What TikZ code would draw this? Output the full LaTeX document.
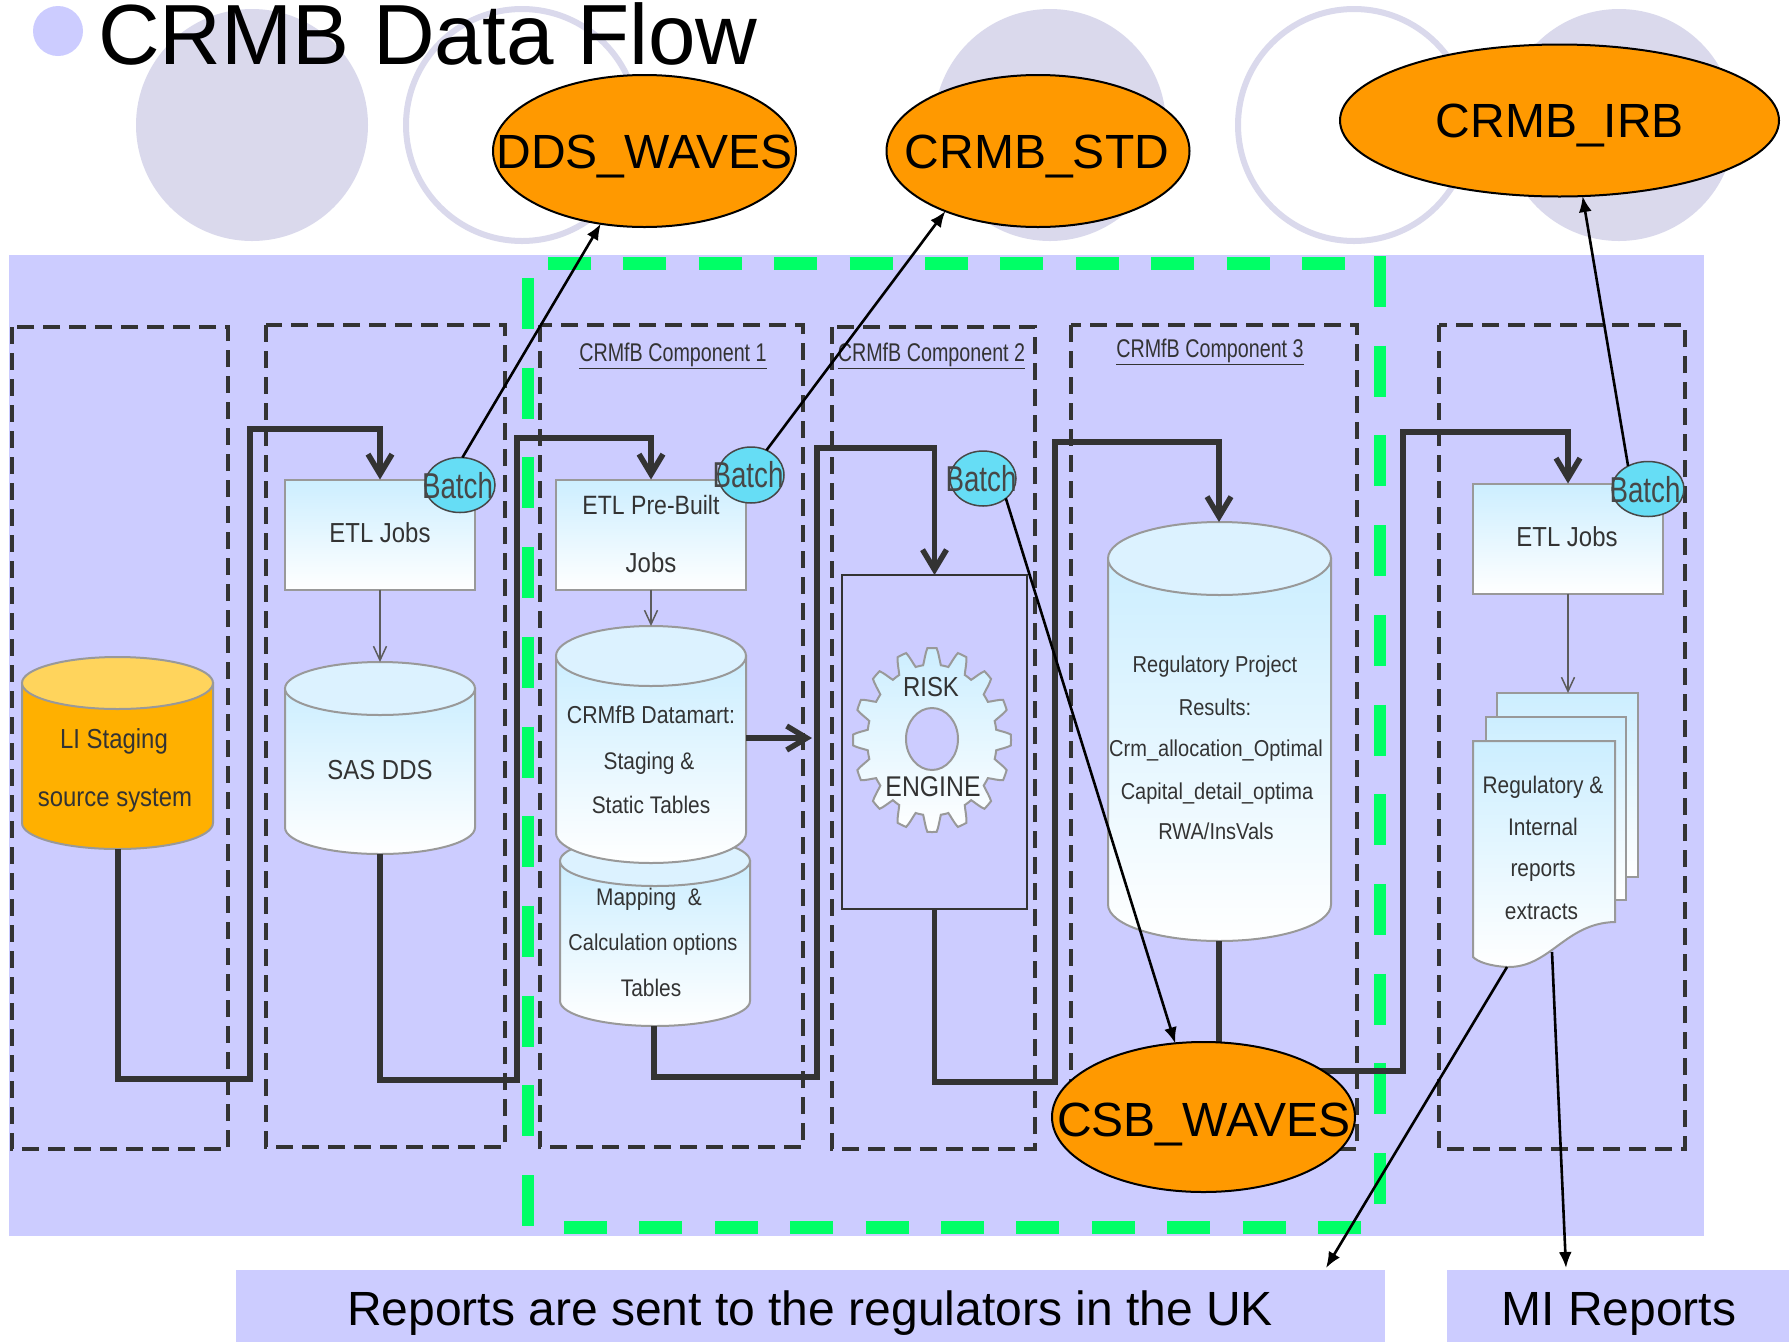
\documentclass[tikz,border=0pt]{standalone}
\usepackage{fontspec}
\setmainfont{Liberation Sans}
\newfontfamily\fnarrow[FakeStretch=0.87]{Liberation Sans}
\newfontfamily\ftight[FakeStretch=0.77]{Liberation Sans}
\usetikzlibrary{arrows.meta,shapes.geometric}
\definecolor{panel}{HTML}{CCCCFF}
\definecolor{deco}{HTML}{DAD9EC}
\definecolor{orng}{HTML}{FF9900}
\definecolor{grn}{HTML}{00FF66}
\definecolor{ink}{HTML}{333333}
\definecolor{sky}{HTML}{CCEEFF}
\definecolor{skymid}{HTML}{E6F6FF}
\definecolor{skyend}{HTML}{DCF2FF}
\definecolor{edge}{HTML}{999999}
\definecolor{batchc}{HTML}{66DDF5}
\definecolor{amber}{HTML}{FFB000}
\definecolor{amberend}{HTML}{FFD45C}
\tikzset{
  x=1pt,y=-1pt,
  panelbox/.style={fill=panel,draw=none,inner sep=0pt,outer sep=0pt},
  dbl/.style={fill=orng,draw=black,line width=2pt,ellipse,inner sep=0pt,outer sep=0pt},
  decofill/.style={fill=deco,draw=none},
  decoring/.style={draw=deco,line width=6pt},
  greenh/.style={draw=grn,line width=13pt,dash pattern=on 43pt off 32.4pt},
  greenv/.style={draw=grn,line width=11.5pt,dash pattern=on 51pt off 38.7pt},
  group/.style={draw=ink,line width=3.5pt,dash pattern=on 17pt off 9pt},
  flow/.style={draw=ink,line width=5.5pt,-{Straight Barb[length=20pt,width=24pt]}},
  thin/.style={draw=ink!80,line width=1.5pt,-{Straight Barb[length=14pt,width=13pt]}},
  link/.style={draw=black,line width=2.6pt,-{Latex[length=16pt,width=13pt]}},
  fadefill/.style={top color=sky,middle color=skymid,bottom color=white},
  box/.style={draw=edge,line width=2pt,fadefill,inner sep=0pt,outer sep=0pt},
  cylbody/.style={draw=edge,line width=2pt,fadefill},
  cylend/.style={draw=edge,line width=2pt,fill=skyend},
  cylbodyy/.style={draw=edge,line width=2pt,fill=amber},
  cylendy/.style={draw=edge,line width=2pt,fill=amberend},
  batch/.style={draw=ink!90,line width=1.5pt,fill=batchc,ellipse,inner sep=0pt,outer sep=0pt},
  batchtxt/.style={text=ink!90,inner sep=0pt,font=\ftight\fontsize{36}{36}\selectfont},
  lab/.style={text=ink,inner sep=0pt,font=\fnarrow\fontsize{27.5}{27.5}\selectfont},
  lab2/.style={text=ink,inner sep=0pt,font=\fnarrow\fontsize{24}{24}\selectfont},
  lab3/.style={text=ink,inner sep=0pt,font=\fnarrow\fontsize{23}{23}\selectfont},
  comp/.style={text=ink,inner sep=0pt,font=\ftight\fontsize{25.6}{25.6}\selectfont},
  big/.style={text=black,inner sep=0pt,anchor=base,font=\fontsize{48}{48}\selectfont},
}
\newcommand{\cylshape}[8]{%
  \pgfmathsetmacro\cylrx{(#3-#2)/2}%
  \pgfmathsetmacro\cylw{#3-#2}%
  \pgfmathsetmacro\cylh{#5-#4}%
  \path[#7] (#2,{#4+#6}) -- (#2,{#5-#6}) arc[start angle=180,end angle=360,x radius=\cylrx pt,y radius=#6 pt] -- (#3,{#4+#6}) -- cycle;
  \path[#8] ({(#2+#3)/2},{#4+#6}) ellipse[x radius=\cylrx pt,y radius=#6 pt];
  \node[name=#1,inner sep=0pt,outer sep=0pt,minimum width=\cylw pt,minimum height=\cylh pt] at ({(#2+#3)/2},{(#4+#5)/2}) {};
}
\begin{document}
\begin{tikzpicture}
\useasboundingbox (0,0) rectangle (1789,1342);
\fill[white] (0,0) rectangle (1789,1342);
% decoration circles
\fill[decofill] (252,125) circle[radius=116pt];
\draw[decoring] (522,125) circle[radius=116pt];
\fill[decofill] (1050,125) circle[radius=116pt];
\draw[decoring] (1354,125) circle[radius=116pt];
\fill[decofill] (1619,125) circle[radius=116pt];
% title
\fill[panel] (58,31) circle[radius=25pt];
\node[big,anchor=base west,font=\fontsize{85.4}{90}\selectfont] (title) at (98,64) {CRMB Data Flow};
% panels
\node[panelbox,minimum width=1695pt,minimum height=981pt] (main) at (856.5,745.5) {};
\node[panelbox,minimum width=1149pt,minimum height=72pt] (rep) at (810.5,1306) {};
\node[panelbox,minimum width=342pt,minimum height=72pt] (mi) at (1618,1306) {};
\coordinate (reptip) at (1326,1268);
\coordinate (mitip) at (1566,1268);
\node[big] (reptxt) at (810,1325) {Reports are sent to the regulators in the UK};
\node[big] (mitxt) at (1619,1325) {MI Reports};
% green dashed frame
\draw[greenh] (548,263) -- (1346,263);
\draw[greenv] (1380,256) -- (1380,1208);
\draw[greenh] (564,1227.5) -- (1362,1227.5);
\draw[greenv] (528,278) -- (528,1232);
% dashed groups
\draw[group] (12,327) rectangle (228,1149);
\draw[group] (266,325) rectangle (505,1147);
\draw[group] (540,325) rectangle (803,1147);
\draw[group] (832,327) rectangle (1035,1149);
\draw[group] (1071,325) rectangle (1357,1149);
\draw[group] (1439,325) rectangle (1685,1149);
% boxes
\node[box,minimum width=190pt,minimum height=110pt] (etla) at (380,534.5) {};
\node[box,minimum width=190pt,minimum height=110pt] (etlb) at (651,534.5) {};
\node[box,minimum width=190pt,minimum height=110pt] (etlc) at (1568,538.5) {};
% cylinders
\cylshape{li}{22}{213}{657}{849}{26}{cylbodyy}{cylendy}
\cylshape{sas}{285}{475}{662}{854}{26.5}{cylbody}{cylend}
\cylshape{map}{560}{750}{836}{1026}{25}{cylbody}{cylend}
\cylshape{dm}{556}{746}{626}{863}{30}{cylbody}{cylend}
\cylshape{res}{1108}{1331}{522}{941}{36.5}{cylbody}{cylend}
% engine
\node[draw=ink,line width=2pt,fill=none,inner sep=0pt,outer sep=0pt,minimum width=184.5pt,minimum height=334pt] (eng) at (934.5,742) {};
\shadedraw[draw=edge,line width=2pt,fadefill]
  plot[domain=0:360,samples=321] ({932+79*max(0.82,min(1,0.91+0.16*cos(16*\x)))*cos(\x)},{740+92*max(0.82,min(1,0.91+0.16*cos(16*\x)))*sin(\x)}) -- cycle;
\path[draw=edge,line width=2pt,fill=panel] (932,739) ellipse[x radius=26pt,y radius=31pt];
% documents
\path[cylbody] (1497,693) rectangle (1638,877);
\path[cylbody] (1486,717) rectangle (1626,900);
\path[cylbody] (1473,741) -- (1615,741) -- (1615,922) .. controls (1565,923) and (1550,968) .. (1507,967) .. controls (1490,966) and (1478,962) .. (1473,957) -- cycle;
\coordinate (docmi) at (1552,952);
\coordinate (docrep) at (1507,967);
% flow connectors
\coordinate (sa) at (118,849); \coordinate (ba) at (250,1079); \coordinate (ta) at (380,429);
\draw[flow] (sa) |- (ba) |- (ta) -- (etla.north);
\coordinate (bb) at (517,1080); \coordinate (tb) at (651,438);
\draw[flow] (sas.south) |- (bb) |- (tb) -- (etlb.north);
\coordinate (sc) at (654,1026); \coordinate (bc) at (817,1077); \coordinate (tc) at (934.5,448);
\draw[flow] (sc) |- (bc) |- (tc) -- (eng.north);
\coordinate (bd) at (1055,1082); \coordinate (td) at (1219,442); \coordinate (ed) at (1219,522);
\draw[flow] (eng.south) |- (bd) |- (td) -- (ed);
\coordinate (se) at (1219,941); \coordinate (be) at (1403,1071); \coordinate (te) at (1568,432);
\draw[flow] (se) |- (be) |- (te) -- (etlc.north);
\coordinate (ga) at (746,738); \coordinate (gb) at (812,738);
\draw[flow] (ga) -- (gb);
\coordinate (pg) at (1568,693);
\draw[thin] (etla.south) -- (sas.north);
\draw[thin] (etlb.south) -- (dm.north);
\draw[thin] (etlc.south) -- (pg);
% labels
\node[lab] (t1) at (380,533) {ETL Jobs};
\node[lab,font=\fnarrow\fontsize{26.5}{26.5}\selectfont] (t2) at (651,505) {ETL Pre-Built};
\node[lab] (t3) at (651,563) {Jobs};
\node[lab] (t4) at (1567,537) {ETL Jobs};
\node[lab] (t5) at (380,770) {SAS DDS};
\node[lab] (t6) at (114,741.5) {LI Staging};
\node[lab] (t7) at (115,800) {source system};
\node[lab2,font=\fnarrow\fontsize{24.5}{24.5}\selectfont] (t8) at (651,715) {CRMfB Datamart:};
\node[lab2] (t9) at (649,763) {Staging \&};
\node[lab2] (t10) at (651,804.5) {Static Tables};
\node[lab2] (t11) at (649,899) {Mapping~~\&};
\node[lab3] (t12) at (653,945) {Calculation options};
\node[lab2] (t13) at (651,987.5) {Tables};
\node[lab3] (t14) at (1215,667) {Regulatory Project};
\node[lab3] (t15) at (1215,707.5) {Results:};
\node[lab3] (t16) at (1216,751) {Crm\_allocation\_Optimal};
\node[lab3] (t17) at (1217,793.5) {Capital\_detail\_optima};
\node[lab3] (t18) at (1216,831.5) {RWA/InsVals};
\node[lab2] (t19) at (1543,787) {Regulatory \&};
\node[lab2] (t20) at (1543,827) {Internal};
\node[lab2] (t21) at (1543,871) {reports};
\node[lab2] (t22) at (1541.5,911.5) {extracts};
\node[lab] (t23) at (931,687) {RISK};
\node[lab,font=\fnarrow\fontsize{28.5}{28.5}\selectfont] (t24) at (933,787) {ENGINE};
\node[comp] (c1) at (673,355.5) {\underline{CRMfB Component 1}};
\node[comp] (c2) at (931.5,355.5) {\underline{CRMfB Component 2}};
\node[comp] (c3) at (1210,351.5) {\underline{CRMfB Component 3}};
% batch
\node[batch,minimum width=70pt,minimum height=55pt] (ba1) at (460,485) {};
\node[batch,minimum width=66pt,minimum height=56pt] (ba2) at (751,475) {};
\node[batch,minimum width=66pt,minimum height=55pt] (ba3) at (983,478.5) {};
\node[batch,minimum width=72pt,minimum height=55pt] (ba4) at (1648,489) {};
\node[batchtxt] (bt1) at (457.5,486) {Batch};
\node[batchtxt] (bt2) at (748,475) {Batch};
\node[batchtxt] (bt3) at (981,479) {Batch};
\node[batchtxt] (bt4) at (1645,490) {Batch};
% databases
\node[dbl,minimum width=303pt,minimum height=152pt] (dds) at (644.5,151) {};
\node[big] (ddst) at (644.5,168.5) {DDS\_WAVES};
\node[dbl,minimum width=303pt,minimum height=152pt] (std) at (1038,151) {};
\node[big] (stdt) at (1037,168) {CRMB\_STD};
\node[dbl,minimum width=439pt,minimum height=152pt] (irb) at (1559.5,120.5) {};
\node[big] (irbt) at (1560,137.5) {CRMB\_IRB};
\node[dbl,minimum width=303pt,minimum height=150pt] (csb) at (1203.5,1117) {};
\node[big] (csbt) at (1204,1136.5) {CSB\_WAVES};
% links
\draw[link] (ba1.85) -- (dds.239);
\draw[link] (ba2.58) -- (std.213);
\draw[link] (ba3.-41) -- (csb.111);
\draw[link] (ba4.131) -- (irb.-73);
\draw[link] (docrep) -- (reptip);
\draw[link] (docmi) -- (mitip);
\end{tikzpicture}
\end{document}
